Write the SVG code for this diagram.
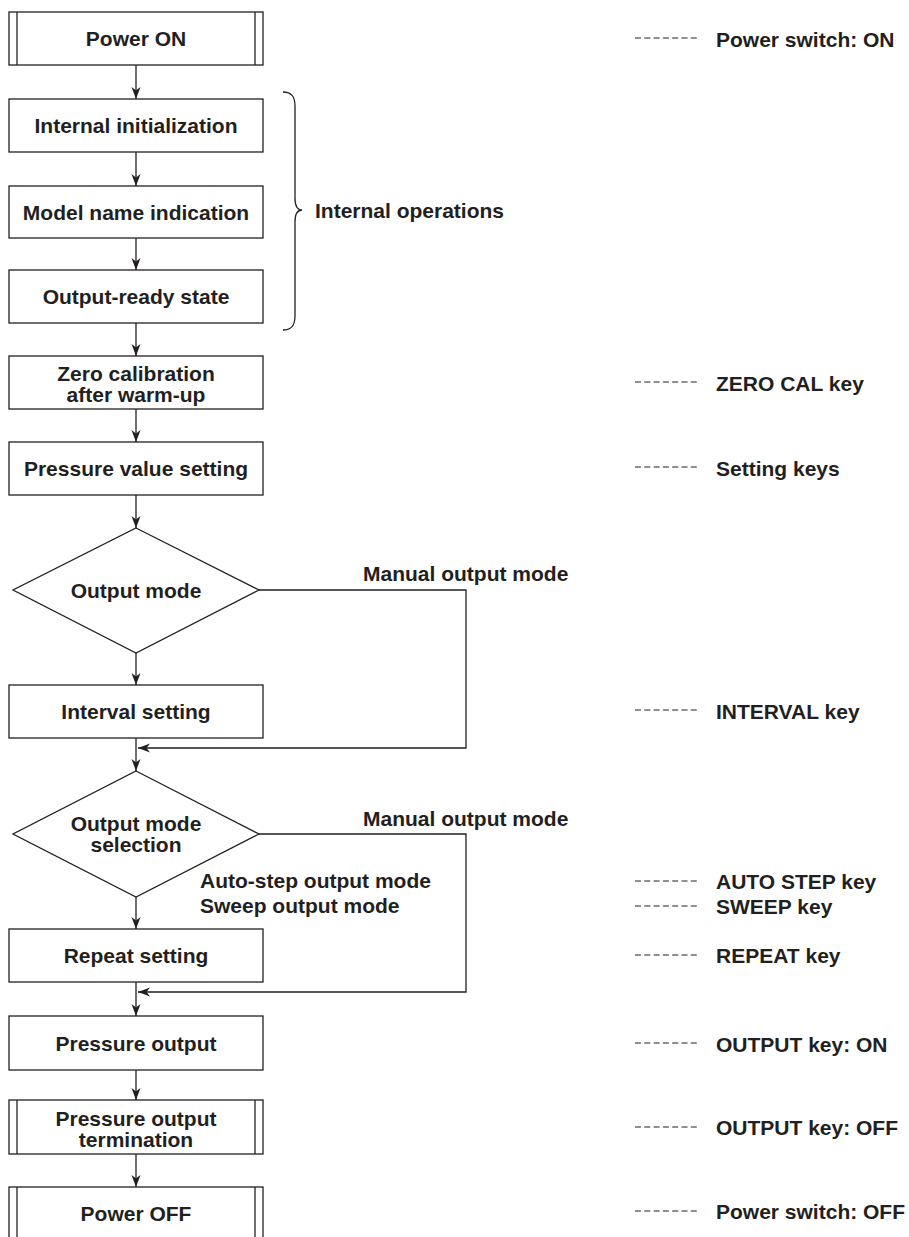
<svg xmlns="http://www.w3.org/2000/svg" width="909" height="1237" viewBox="0 0 909 1237">
<style>
.box{fill:#fff;stroke:#231f20;stroke-width:1.3}
.ln{fill:none;stroke:#231f20;stroke-width:1.3}
.dash{fill:none;stroke:#231f20;stroke-width:1;stroke-dasharray:6 3.3}
text{font-family:"Liberation Sans",Arial,sans-serif;font-weight:bold;font-size:21px;fill:#231f20}
.c{text-anchor:middle}
</style>
<defs>
<marker id="ah" viewBox="-13 -6 14 12" refX="0" refY="0" markerWidth="14" markerHeight="12" markerUnits="userSpaceOnUse" orient="auto">
<path d="M0,0 L-12,-4.5 L-8.5,0 L-12,4.5 Z" fill="#231f20"/>
</marker>
</defs>
<rect width="909" height="1237" fill="#fff"/>
<g id="connectors">
<line class="ln" x1="136" y1="65" x2="136" y2="99" marker-end="url(#ah)"/>
<line class="ln" x1="136" y1="152" x2="136" y2="186" marker-end="url(#ah)"/>
<line class="ln" x1="136" y1="238" x2="136" y2="270" marker-end="url(#ah)"/>
<line class="ln" x1="136" y1="323" x2="136" y2="356" marker-end="url(#ah)"/>
<line class="ln" x1="136" y1="409" x2="136" y2="442" marker-end="url(#ah)"/>
<line class="ln" x1="136" y1="495" x2="136" y2="528" marker-end="url(#ah)"/>
<line class="ln" x1="136" y1="653" x2="136" y2="685" marker-end="url(#ah)"/>
<line class="ln" x1="136" y1="738" x2="136" y2="771" marker-end="url(#ah)"/>
<polyline class="ln" points="259,590 466,590 466,748 138,748" marker-end="url(#ah)"/>
<line class="ln" x1="136" y1="897" x2="136" y2="929" marker-end="url(#ah)"/>
<polyline class="ln" points="259,834 466,834 466,992 138,992" marker-end="url(#ah)"/>
<line class="ln" x1="136" y1="982" x2="136" y2="1016" marker-end="url(#ah)"/>
<line class="ln" x1="136" y1="1070" x2="136" y2="1100" marker-end="url(#ah)"/>
<line class="ln" x1="136" y1="1154" x2="136" y2="1187" marker-end="url(#ah)"/>
</g>
<g id="power-on">
<rect class="box" x="9" y="12" width="254" height="53"/>
<line class="ln" x1="17" y1="12" x2="17" y2="65"/>
<line class="ln" x1="255" y1="12" x2="255" y2="65"/>
<text class="c" x="136" y="46">Power ON</text>
</g>
<g id="internal-init">
<rect class="box" x="9" y="99" width="254" height="53"/>
<text class="c" x="136" y="133">Internal initialization</text>
</g>
<g id="model-name">
<rect class="box" x="9" y="186" width="254" height="52"/>
<text class="c" x="136" y="219.5">Model name indication</text>
</g>
<g id="output-ready">
<rect class="box" x="9" y="270" width="254" height="53"/>
<text class="c" x="136" y="304">Output-ready state</text>
</g>
<g id="internal-operations">
<path class="ln" d="M283,92 C292,92 295,97 295,106 L295,198 C295,206 298,210 302,210 C298,210 295,214 295,222 L295,316 C295,325 292,330 283,330"/>
<text x="315" y="218">Internal operations</text>
</g>
<g id="zero-cal">
<rect class="box" x="9" y="356" width="254" height="53"/>
<text class="c" x="136" y="380.5">Zero calibration</text>
<text class="c" x="136" y="401.5">after warm-up</text>
</g>
<g id="pressure-value">
<rect class="box" x="9" y="442" width="254" height="53"/>
<text class="c" x="136" y="476">Pressure value setting</text>
</g>
<g id="output-mode">
<polygon class="box" points="136,528 259,590 136,653 13,590"/>
<text class="c" x="136" y="598">Output mode</text>
<text x="363" y="581">Manual output mode</text>
</g>
<g id="interval-setting">
<rect class="box" x="9" y="685" width="254" height="53"/>
<text class="c" x="136" y="719">Interval setting</text>
</g>
<g id="output-mode-selection">
<polygon class="box" points="136,771 259,834 136,897 13,834"/>
<text class="c" x="136" y="831">Output mode</text>
<text class="c" x="136" y="852">selection</text>
<text x="363" y="826">Manual output mode</text>
<text x="200" y="888">Auto-step output mode</text>
<text x="200" y="913">Sweep output mode</text>
</g>
<g id="repeat-setting">
<rect class="box" x="9" y="929" width="254" height="53"/>
<text class="c" x="136" y="963">Repeat setting</text>
</g>
<g id="pressure-output">
<rect class="box" x="9" y="1016" width="254" height="54"/>
<text class="c" x="136" y="1051">Pressure output</text>
</g>
<g id="pressure-output-termination">
<rect class="box" x="9" y="1100" width="254" height="54"/>
<line class="ln" x1="17" y1="1100" x2="17" y2="1154"/>
<line class="ln" x1="255" y1="1100" x2="255" y2="1154"/>
<text class="c" x="136" y="1126">Pressure output</text>
<text class="c" x="136" y="1147">termination</text>
</g>
<g id="power-off">
<rect class="box" x="9" y="1187" width="254" height="70"/>
<line class="ln" x1="17" y1="1187" x2="17" y2="1257"/>
<line class="ln" x1="255" y1="1187" x2="255" y2="1257"/>
<text class="c" x="136" y="1221">Power OFF</text>
</g>
<g id="annotations">
<line class="dash" x1="635" y1="38" x2="700" y2="38"/>
<text x="716" y="47">Power switch: ON</text>
<line class="dash" x1="635" y1="382" x2="700" y2="382"/>
<text x="716" y="391">ZERO CAL key</text>
<line class="dash" x1="635" y1="467" x2="700" y2="467"/>
<text x="716" y="476">Setting keys</text>
<line class="dash" x1="635" y1="710" x2="700" y2="710"/>
<text x="716" y="719">INTERVAL key</text>
<line class="dash" x1="635" y1="881" x2="700" y2="881"/>
<text x="716" y="889">AUTO STEP key</text>
<line class="dash" x1="635" y1="906" x2="700" y2="906"/>
<text x="716" y="914">SWEEP key</text>
<line class="dash" x1="635" y1="955" x2="700" y2="955"/>
<text x="716" y="963">REPEAT key</text>
<line class="dash" x1="635" y1="1043" x2="700" y2="1043"/>
<text x="716" y="1052">OUTPUT key: ON</text>
<line class="dash" x1="635" y1="1127" x2="700" y2="1127"/>
<text x="716" y="1135">OUTPUT key: OFF</text>
<line class="dash" x1="635" y1="1211" x2="700" y2="1211"/>
<text x="716" y="1219">Power switch: OFF</text>
</g>
</svg>
